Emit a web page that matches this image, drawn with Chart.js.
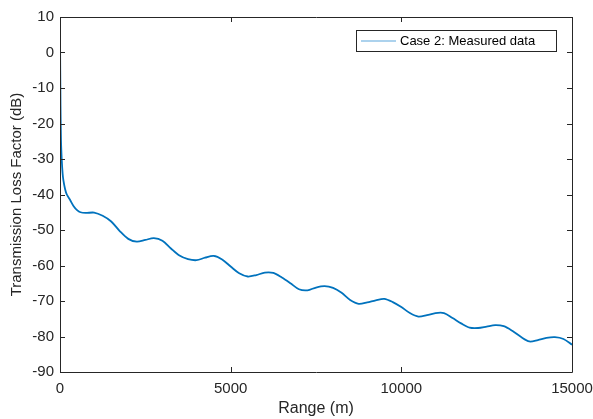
<!DOCTYPE html>
<html>
<head>
<meta charset="utf-8">
<script src="https://cdn.jsdelivr.net/npm/chart.js@4.4.0/dist/chart.umd.min.js"></script>
<style>
  html, body { margin: 0; padding: 0; background: #fff; }
  #wrap { width: 593px; height: 419px; }
</style>
</head>
<body>
<div id="wrap"><canvas id="c" width="593" height="419"></canvas></div>
<script>
// range (m) and transmission loss (dB)
const range = [0, 15, 30, 50, 76, 100, 150, 200, 293, 400, 500, 600, 750, 1000, 1250, 1500, 1750, 2000, 2250, 2500, 2750, 3000, 3250, 3500, 3750, 4000, 4250, 4500, 4750, 5000, 5250, 5500, 5750, 6000, 6250, 6500, 6750, 7000, 7250, 7500, 7750, 8000, 8250, 8500, 8750, 9000, 9250, 9500, 9750, 10000, 10250, 10500, 10750, 11000, 11250, 11500, 11750, 12000, 12250, 12500, 12750, 13000, 13250, 13500, 13750, 14000, 14250, 14500, 14750, 15000]
const lossDb = [5, -15, -25, -30, -34, -36, -38.5, -40, -41.5, -43.3, -44.4, -45, -45.2, -45.1, -46, -47.6, -50.3, -52.5, -53.3, -52.8, -52.3, -53, -55.2, -57.2, -58.2, -58.5, -57.8, -57.3, -58.3, -60.3, -62.2, -63.1, -62.7, -62, -62.1, -63.4, -65, -66.7, -67, -66.2, -65.8, -66.3, -67.7, -69.7, -70.8, -70.4, -69.8, -69.4, -70.3, -71.7, -73.4, -74.4, -74, -73.4, -73.4, -74.8, -76.3, -77.5, -77.6, -77.2, -76.8, -77.1, -78.4, -80.1, -81.4, -81, -80.4, -80.2, -80.7, -82.3]
const seriesName = 'Case 2: Measured data'
const xTitle = 'Range (m)'
const yTitle = 'Transmission Loss Factor (dB)'

const AXIS = '#262626'
const LINE = '#0072BD'
const FONT = 'Liberation Sans, Arial, sans-serif'

// matlab style box, inward ticks and boxed legend
const matlabBox = {
    id: 'matlabBox',
    afterDraw(chart) {
        const { ctx, chartArea: a, scales } = chart
        ctx.save()
        ctx.strokeStyle = AXIS
        ctx.lineWidth = 1
        ctx.beginPath()
        ctx.rect(Math.round(a.left) + 0.5, Math.round(a.top) + 0.5, Math.round(a.right - a.left), Math.round(a.bottom - a.top))
        ctx.stroke()
        const len = 5
        ctx.beginPath()
        scales.x.ticks.forEach(t => {
            const px = Math.round(scales.x.getPixelForValue(t.value)) + 0.5
            ctx.moveTo(px, a.bottom); ctx.lineTo(px, a.bottom - len)
            ctx.moveTo(px, a.top); ctx.lineTo(px, a.top + len)
        })
        scales.y.ticks.forEach(t => {
            const py = Math.round(scales.y.getPixelForValue(t.value)) + 0.5
            ctx.moveTo(a.left, py); ctx.lineTo(a.left + len, py)
            ctx.moveTo(a.right, py); ctx.lineTo(a.right - len, py)
        })
        ctx.stroke()

        // legend
        const bx = 356.5, by = 30.5, bw = 200, bh = 21
        ctx.fillStyle = '#fff'
        ctx.fillRect(bx, by, bw, bh)
        ctx.strokeStyle = '#262626'
        ctx.strokeRect(bx, by, bw, bh)
        ctx.strokeStyle = '#5aa6dc'
        ctx.lineWidth = 1.2
        ctx.beginPath()
        ctx.moveTo(361, by + bh / 2); ctx.lineTo(396, by + bh / 2)
        ctx.stroke()
        ctx.fillStyle = '#000'
        ctx.font = '13px ' + FONT
        ctx.textBaseline = 'middle'
        ctx.textAlign = 'left'
        ctx.fillText(chart.data.datasets[0].label, 400, by + bh / 2 + 0.5)
        ctx.restore()
    }
}

new Chart(document.getElementById('c'), {
    type: 'line',
    data: {
        datasets: [
            {
                label: seriesName,
                data: range.map((r, i) => ({ x: r, y: lossDb[i] })),
                borderColor: LINE,
                borderWidth: 1.8,
                pointRadius: 0,
                tension: 0.3,
                fill: false
            }
        ]
    },
    options: {
        responsive: false,
        animation: false,
        layout: { padding: { top: 17, right: 21, left: 0, bottom: 0 } },
        plugins: {
            legend: { display: false },
            tooltip: { enabled: false }
        },
        scales: {
            x: {
                type: 'linear',
                min: 0,
                max: 15000,
                grid: { display: false, drawTicks: false },
                border: { display: false },
                ticks: {
                    stepSize: 5000,
                    color: AXIS,
                    padding: 8,
                    font: { family: FONT, size: 15 },
                    maxRotation: 0,
                    callback: v => String(v)
                },
                title: {
                    display: true,
                    text: xTitle,
                    color: AXIS,
                    font: { family: FONT, size: 16 },
                    padding: { top: 0, bottom: 1 }
                },
                afterFit(scale) {
                    scale.height = 47
                    scale.paddingLeft = 0
                    scale.paddingRight = 0
                }
            },
            y: {
                min: -90,
                max: 10,
                grid: { display: false, drawTicks: false },
                border: { display: false },
                ticks: {
                    stepSize: 10,
                    color: AXIS,
                    padding: 6,
                    font: { family: FONT, size: 15 }
                },
                title: {
                    display: true,
                    text: yTitle,
                    color: AXIS,
                    font: { family: FONT, size: 15 },
                    padding: { top: 8, bottom: 0 }
                },
                afterFit(scale) {
                    scale.width = 60
                    scale.paddingTop = 0
                    scale.paddingBottom = 0
                }
            }
        }
    },
    plugins: [matlabBox]
})
</script>
</body>
</html>
